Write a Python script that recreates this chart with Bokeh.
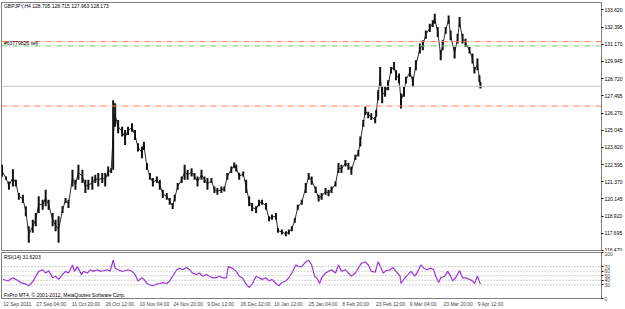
from bokeh.plotting import figure
from bokeh.models import Range1d, FixedTicker, Span, Label, NumeralTickFormatter
from bokeh.layouts import column
from bokeh.embed import file_html
from bokeh.resources import INLINE

# ---------------- data ----------------
bar_pos = [1, 5, 8, 12, 15, 18, 22, 25, 28, 32, 35, 38, 42, 45, 48, 52, 55, 58, 62, 65,
           68, 72, 75, 78, 82, 85, 88, 92, 95, 98, 102, 105, 108, 111, 113, 115, 118, 122, 125, 128,
           132, 135, 138, 142, 144, 147, 150, 153, 157, 160, 163, 167, 170, 173, 175, 178, 182, 185, 188, 192,
           195, 198, 202, 205, 208, 212, 215, 218, 222, 225, 228, 232, 235, 237, 240, 244, 247, 250, 253, 257,
           260, 263, 267, 270, 273, 277, 279, 283, 287, 290, 293, 296, 299, 303, 307, 310, 313, 317, 320, 323,
           327, 330, 333, 337, 340, 343, 347, 350, 353, 357, 360, 362, 365, 367, 370, 373, 377, 378, 380, 382,
           384, 387, 390, 393, 396, 398, 401, 403, 406, 408, 412, 415, 418, 422, 425, 428, 432, 435, 437, 440,
           443, 445, 448, 451, 453, 457, 460, 462, 465, 468, 472, 475, 477, 480, 482, 483]

high = [122.58, 121.75, 121.39, 122.27, 121.51, 120.57, 120.45, 119.62, 118.20, 118.67,
        119.15, 120.33, 120.09, 120.80, 120.09, 119.15, 118.67, 118.91, 119.62, 120.21,
        120.09, 122.22, 121.51, 122.58, 122.22, 121.51, 121.51, 121.75, 121.87, 121.99,
        121.99, 121.99, 122.46, 122.34, 127.19, 126.96, 125.77, 125.30, 125.06, 125.30,
        125.54, 125.06, 124.12, 123.88, 124.23, 122.70, 121.99, 121.63, 121.75, 121.51,
        120.80, 120.57, 120.21, 119.86, 120.45, 121.28, 121.75, 122.58, 122.22, 122.34,
        121.99, 121.75, 122.22, 121.75, 121.63, 121.63, 121.04, 120.92, 121.04, 121.04,
        121.99, 122.46, 122.74, 122.58, 122.01, 122.10, 121.51, 120.33, 119.86, 119.62,
        120.09, 120.09, 119.86, 118.91, 119.03, 119.15, 118.08, 117.96, 117.84, 117.96,
        118.20, 118.79, 119.74, 120.09, 121.28, 121.99, 121.75, 121.04, 120.45, 120.57,
        120.92, 120.80, 121.04, 121.39, 122.70, 122.58, 122.93, 122.70, 122.46, 123.29,
        123.64, 124.59, 125.77, 126.72, 126.36, 126.25, 126.01, 126.48, 127.90, 129.56,
        128.14, 128.14, 128.61, 129.56, 129.91, 129.32, 129.09, 127.67, 128.14, 128.85,
        129.56, 128.85, 130.03, 131.22, 131.45, 132.16, 132.64, 132.88, 133.35, 132.40,
        130.74, 131.45, 132.40, 133.23, 132.16, 130.98, 131.93, 133.11, 131.93, 131.57,
        130.98, 130.51, 129.56, 130.15, 128.97, 128.49]

low = [121.73, 121.51, 120.80, 121.04, 121.04, 120.09, 119.86, 118.91, 117.02, 117.73,
       118.20, 119.15, 119.38, 119.62, 119.38, 118.20, 117.84, 117.02, 119.15, 119.86,
       119.50, 121.04, 120.80, 121.51, 121.28, 120.57, 120.80, 120.80, 121.28, 121.04,
       121.28, 121.04, 121.75, 121.99, 122.22, 125.30, 124.83, 124.59, 124.00, 124.71,
       124.94, 124.35, 123.52, 123.05, 123.64, 122.22, 121.51, 121.04, 121.28, 120.80,
       120.21, 120.09, 119.74, 119.43, 119.97, 120.80, 121.28, 121.51, 121.51, 121.75,
       121.51, 121.04, 121.51, 121.28, 120.80, 121.28, 120.57, 120.45, 120.57, 120.68,
       121.51, 121.99, 122.34, 122.10, 121.51, 121.75, 120.57, 119.62, 119.26, 119.15,
       119.62, 119.74, 119.38, 118.55, 118.67, 118.67, 117.73, 117.61, 117.49, 117.61,
       117.84, 118.44, 119.38, 119.74, 120.57, 121.51, 121.16, 120.57, 119.97, 120.09,
       120.45, 120.33, 120.57, 121.04, 121.99, 121.99, 122.46, 122.22, 121.87, 122.93,
       123.17, 123.88, 125.30, 126.13, 125.89, 125.77, 125.54, 126.01, 127.19, 128.14,
       126.96, 127.43, 127.90, 129.09, 129.32, 128.61, 128.38, 126.60, 127.43, 128.38,
       128.85, 128.14, 129.32, 130.51, 130.74, 131.57, 132.04, 132.40, 132.64, 131.69,
       130.03, 130.74, 131.93, 132.64, 131.45, 130.15, 131.22, 132.40, 131.22, 130.98,
       130.51, 129.80, 129.09, 129.32, 128.49, 128.02]

rsi_pos = [2, 7, 12, 15, 20, 25, 28, 32, 35, 38, 42, 45, 48, 52, 55, 58, 62, 65, 68, 72,
           74, 77, 81, 83, 87, 90, 93, 97, 100, 103, 107, 110, 113, 115, 118, 122, 125, 128, 132, 135,
           138, 142, 144, 147, 150, 153, 157, 160, 163, 167, 170, 173, 177, 180, 183, 187, 190, 193, 197, 200,
           203, 207, 210, 213, 217, 220, 223, 227, 229, 233, 237, 240, 243, 247, 250, 253, 257, 260, 263, 267,
           270, 273, 277, 280, 283, 287, 290, 293, 297, 300, 303, 307, 310, 313, 316, 318, 321, 323, 327, 330,
           333, 337, 340, 343, 347, 350, 353, 357, 360, 363, 367, 370, 373, 377, 380, 383, 385, 388, 392, 395,
           398, 402, 403, 407, 410, 413, 417, 420, 423, 426, 429, 433, 436, 438, 441, 443, 447, 450, 453, 455,
           458, 462, 465, 468, 472, 475, 477, 480, 483]

rsi = [42, 38.5, 45.5, 42, 35, 31.5, 28, 37, 49, 59.6, 63, 56, 61, 45.5, 49, 42, 52.5, 59.6, 56, 73.6,
       59.6, 70, 52.5, 59.6, 56, 63, 59.6, 63, 59.6, 61, 63, 59.6, 84, 66.6, 63, 59.6, 61, 63, 59.6, 52.5,
       38.5, 45.5, 42, 33, 30, 28, 31.5, 33, 35, 33, 38.5, 49, 63, 66.6, 63, 68, 63, 56, 52.5, 56,
       49, 52.5, 49, 45.5, 45.5, 49, 45.5, 45.5, 70, 66.6, 59.6, 49, 45.5, 31.5, 24.5, 31.5, 49, 45.5, 42, 45.5,
       38.5, 42, 33, 28, 35, 38.5, 45.5, 56, 73.6, 70, 70, 80.6, 84, 73.6, 49, 45.5, 33, 45.5, 56, 59.6,
       63, 56, 73.6, 59.6, 63, 56, 49, 56, 66.6, 77, 80.6, 73.6, 59.6, 58, 80.6, 66.6, 56, 61, 63, 68,
       59.6, 49, 33, 45.5, 52.5, 59.6, 49, 59.6, 73.6, 66.6, 63, 66.6, 63, 49, 35, 45.5, 49, 59.6, 49, 38.5,
       45.5, 61, 45.5, 45.5, 42, 38.5, 33, 49, 31.6]

price_ticks = [116.470, 117.695, 118.920, 120.145, 121.370, 122.595, 123.820, 125.045,
               126.270, 127.495, 128.720, 129.945, 131.170, 132.395, 133.620]
rsi_ticks = [0, 30, 40, 50, 60, 70, 100]
rsi_levels = [30, 40, 50, 60, 70]
date_pos = [1, 34, 69, 103, 138, 172, 206, 240, 273, 308, 342, 376, 410, 444, 478]
date_labels = ["12 Sep 2011", "27 Sep 04:00", "11 Oct 20:00", "26 Oct 12:00", "10 Nov 04:00",
               "24 Nov 20:00", "9 Dec 12:00", "26 Dec 12:00", "10 Jan 12:00", "25 Jan 04:00",
               "8 Feb 20:00", "23 Feb 12:00", "9 Mar 04:00", "23 Mar 20:00", "9 Apr 12:00"]

header = "GBPJPY,H4  128.705 128.715 127.963 128.173"
last_price = 128.173
order_label = "#63779826 sell"
order_tp = 131.36
order_open = 131.05
order_sl = 126.77
rsi_title = "RSI(14) 31.6203"
footer = "FxPro MT4, \u00a9 2001-2012, MetaQuotes Software Corp."

# ---------------- styling ----------------
FONT = "Liberation Sans"
FS = "5px"
BORDER = "#808080"

xr = Range1d(0.5, 605)

p1 = figure(width=625, height=251, x_range=xr, y_range=Range1d(116.47, 134.15),
            output_backend="svg", toolbar_location=None,
            x_axis_location=None, y_axis_location="right",
            min_border_left=1, min_border_right=20, min_border_top=2, min_border_bottom=1)
p1.grid.visible = False
p1.outline_line_color = BORDER
p1.background_fill_color = "white"
p1.border_fill_color = "white"

yax = p1.yaxis[0]
yax.ticker = FixedTicker(ticks=price_ticks)
yax.formatter = NumeralTickFormatter(format="0.000")
yax.major_label_text_font = FONT
yax.major_label_text_font_size = FS
yax.major_label_text_color = "black"
yax.major_label_standoff = 1
yax.major_tick_out = 2
yax.major_tick_in = 0
yax.minor_tick_out = 0
yax.minor_tick_in = 0
yax.axis_line_color = BORDER
yax.major_tick_line_color = "black"

# horizontal order / price lines
for loc, col in [(order_tp, "#ff7f50"), (order_sl, "#ff7f50"), (order_open, "#7cc47c")]:
    p1.add_layout(Span(location=loc, dimension="width", line_color=col,
                       line_dash="6 2 1 2", line_width=1))
p1.add_layout(Span(location=last_price, dimension="width", line_color="#c8c8c8", line_width=1))

# bars
mid = [(h + l) / 2 for h, l in zip(high, low)]
p1.line(bar_pos, mid, line_color="#303030", line_width=1.0)
p1.segment(x0=bar_pos, y0=low, x1=bar_pos, y1=high, line_color="#111111", line_width=2.0)

p1.add_layout(Label(x=3, y=133.87, text=header, text_font=FONT, text_font_size=FS,
                    text_color="black", text_baseline="middle"))
p1.add_layout(Label(x=3, y=131.24, text=order_label, text_font=FONT, text_font_size=FS,
                    text_color="black", text_baseline="middle"))

p2 = figure(width=625, height=58, x_range=xr, y_range=Range1d(0, 101),
            output_backend="svg", toolbar_location=None, y_axis_location="right",
            min_border_left=1, min_border_right=20, min_border_top=1, min_border_bottom=10)
p2.grid.visible = False
p2.outline_line_color = BORDER
p2.background_fill_color = "white"
p2.border_fill_color = "white"

ry = p2.yaxis[0]
ry.ticker = FixedTicker(ticks=rsi_ticks)
ry.major_label_text_font = FONT
ry.major_label_text_font_size = FS
ry.major_label_standoff = 1
ry.major_tick_out = 2
ry.major_tick_in = 0
ry.minor_tick_out = 0
ry.minor_tick_in = 0
ry.axis_line_color = BORDER

# date labels are left-aligned after their time mark: centre each label on its text
date_centers = [p + 1 + len(lab) * 1.3 for p, lab in zip(date_pos, date_labels)]
rx = p2.xaxis[0]
rx.ticker = FixedTicker(ticks=date_centers)
rx.major_label_overrides = {c: lab for c, lab in zip(date_centers, date_labels)}
rx.major_label_text_font = FONT
rx.major_label_text_font_size = FS
rx.major_label_standoff = 2
rx.major_tick_out = 0
rx.major_tick_in = 0
rx.minor_tick_out = 0
rx.minor_tick_in = 0
rx.axis_line_color = BORDER

for lvl in rsi_levels:
    p2.add_layout(Span(location=lvl, dimension="width", line_color="#a0a0a0",
                       line_dash="1 2", line_width=1))
p2.line(rsi_pos, rsi, line_color="#9b30d9", line_width=1.2)

p2.add_layout(Label(x=3, y=92, text=rsi_title, text_font=FONT, text_font_size=FS,
                    text_color="black", text_baseline="middle"))
p2.add_layout(Label(x=3, y=8, text=footer, text_font=FONT, text_font_size=FS,
                    text_color="black", text_baseline="middle"))

layout = column(p1, p2)
open("out.html", "w").write(file_html(layout, INLINE))
